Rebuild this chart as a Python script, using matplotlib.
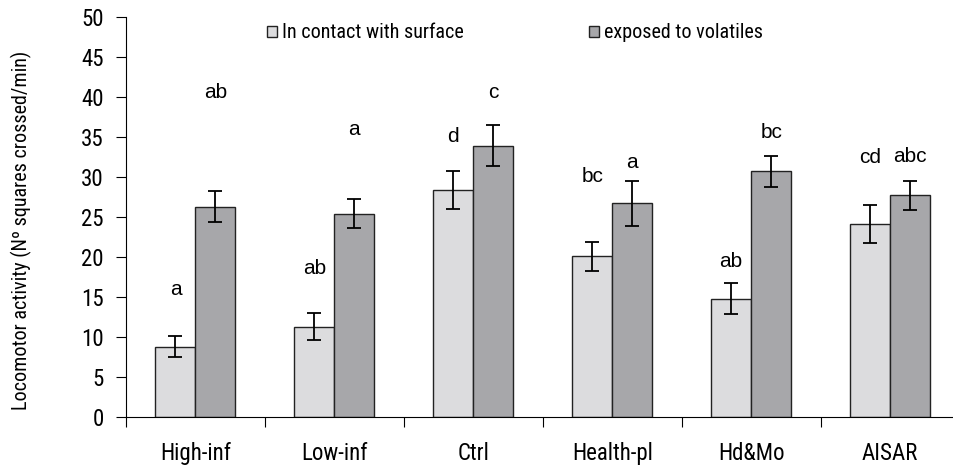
import matplotlib
matplotlib.use("Agg")
import matplotlib.pyplot as plt
import numpy as np
from matplotlib import font_manager

categories = ["High-inf", "Low-inf", "Ctrl", "Health-pl", "Hd&Mo", "AISAR"]
contact = [8.8, 11.3, 28.4, 20.1, 14.8, 24.1]
contact_err = [1.3, 1.65, 2.35, 1.8, 1.9, 2.4]
volatiles = [26.3, 25.4, 33.9, 26.7, 30.7, 27.7]
volatiles_err = [1.9, 1.8, 2.55, 2.85, 1.9, 1.8]
contact_letters = ["a", "ab", "d", "bc", "ab", "cd"]
volatiles_letters = ["ab", "a", "c", "a", "bc", "abc"]
contact_letter_y = [15.9, 18.6, 35.0, 30.1, 19.4, 32.4]
volatiles_letter_y = [40.5, 35.9, 40.5, 31.8, 35.5, 32.5]
series_names = ["In contact with surface", "exposed to volatiles"]

names = {f.name for f in font_manager.fontManager.ttflist}
cands = ["Liberation Sans Narrow", "Roboto Condensed", "Open Sans Condensed", "DejaVu Sans Condensed", "Roboto"]
narrow = next((c for c in cands if c in names), "DejaVu Sans")
plt.rcParams['font.family'] = [narrow, 'DejaVu Sans']
W, H = 954, 468
fig = plt.figure(figsize=(W/100, H/100), dpi=100)
ax = fig.add_axes([126/W, 1-417/H, (959.5-126)/W, 400/H])

x = np.arange(len(categories))
bw = 0.288
light = "#dcdcde"
dark = "#a7a7aa"
ax.bar(x - bw/2, contact, bw, color=light, edgecolor="#222222", linewidth=1.0,
       yerr=contact_err, error_kw=dict(ecolor="black", elinewidth=1.3, capsize=5, capthick=1.3),
       label=series_names[0], zorder=2)
ax.bar(x + bw/2, volatiles, bw, color=dark, edgecolor="#222222", linewidth=1.0,
       yerr=volatiles_err, error_kw=dict(ecolor="black", elinewidth=1.3, capsize=5, capthick=1.3),
       label=series_names[1], zorder=2)

for i in range(len(categories)):
    ax.text(x[i] - bw/2, contact_letter_y[i], contact_letters[i], ha="center", va="center",
            fontsize=15, family="Liberation Sans")
    ax.text(x[i] + bw/2, volatiles_letter_y[i], volatiles_letters[i], ha="center", va="center",
            fontsize=15, family="Liberation Sans")

ax.set_xlim(-0.5, 5.5)
ax.set_ylim(0, 50)
ax.set_yticks(np.arange(0, 51, 5))
ax.set_xticks(np.arange(-0.5, 5.6, 1))
ax.set_xticklabels([])
ax.set_xticks(x, minor=True)
ax.set_xticklabels(categories, minor=True)
ax.tick_params(axis="x", which="minor", length=0, pad=18)
ax.tick_params(axis="x", which="major", length=7, direction="out")
ax.tick_params(axis="y", length=7, direction="out", pad=9)
for lab in ax.get_xticklabels(minor=True) + ax.get_yticklabels():
    lab.set_fontsize(16.5)
for s in ["top", "right"]:
    ax.spines[s].set_visible(False)
ax.set_ylabel("Locomotor activity (Nº squares crossed/min)", fontsize=14.5, va="center")
ax.yaxis.set_label_coords((21-126)/833.5, (417-230)/400)

leg = ax.legend(loc="center", bbox_to_anchor=(515/W, 1-33/H), bbox_transform=fig.transFigure,
                ncol=2, frameon=False, fontsize=14.5, handlelength=0.5, handleheight=0.5,
                handletextpad=0.25, columnspacing=6.2)

fig.savefig("out.png", dpi=100)
